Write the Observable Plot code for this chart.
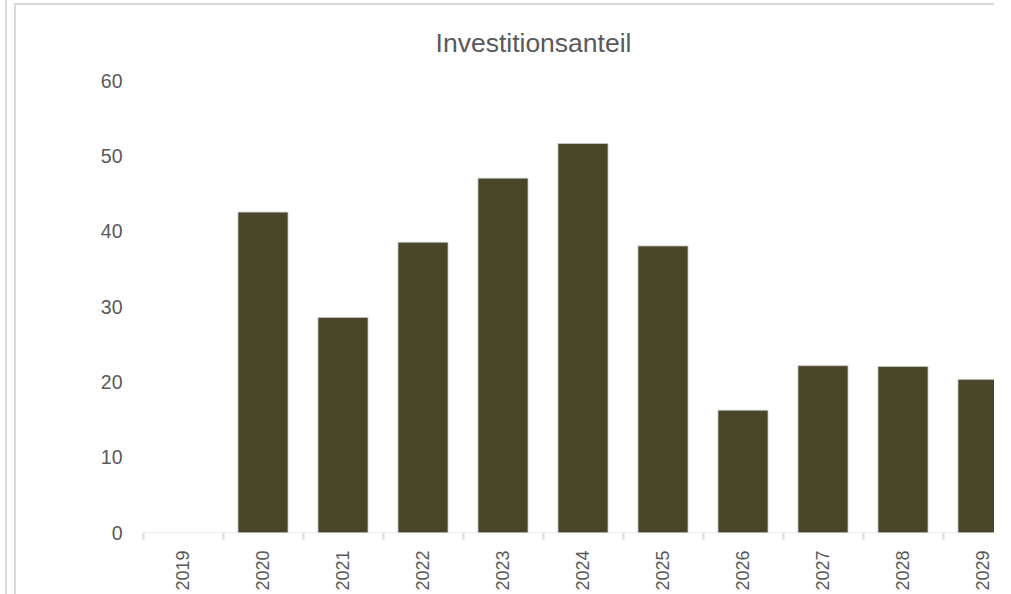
<!DOCTYPE html>
<html>
<head>
<meta charset="utf-8">
<script src="https://cdn.jsdelivr.net/npm/d3@7"></script>
<script src="https://cdn.jsdelivr.net/npm/@observablehq/plot@0.6"></script>
<style>
  html, body { margin: 0; padding: 0; background: #fff; }
  #wrap { position: relative; width: 1011px; height: 594px; overflow: hidden; }
  #outer { position: absolute; left: 5px; top: 0; width: 2px; height: 594px; background: #d9d9d9; }
  #frame { position: absolute; left: 14px; top: 3px; width: 980px; height: 600px;
           border-left: 2px solid #d9d9d9; border-top: 2px solid #d9d9d9; box-sizing: border-box; }
  #title { position: absolute; left: 533.5px; top: 25px; transform: translateX(-50%);
           font-family: "Liberation Sans", Arial, sans-serif; font-size: 26.5px;
           color: #595959; white-space: nowrap; line-height: 36px; }
  #chart { position: absolute; left: 0; top: 0; }
  #chart svg text { font-family: "Liberation Sans", Arial, sans-serif; }
</style>
</head>
<body>
<div id="wrap">
  <div id="outer"></div>
  <div id="frame"></div>
  <div id="chart"></div>
  <div id="title">Investitionsanteil</div>
</div>
<script>
const years = ["2019", "2020", "2021", "2022", "2023", "2024", "2025", "2026", "2027", "2028", "2029"];
const values = [null, 42.6, 28.6, 38.6, 47.1, 51.7, 38.1, 16.3, 22.2, 22.1, 20.4];
const yTicks = [0, 10, 20, 30, 40, 50, 60];

const data = years.map((year, i) => ({year, value: values[i]}));

const chart = Plot.plot({
  width: 1011,
  height: 594,
  marginLeft: 143,
  marginRight: 17,
  marginTop: 81,
  marginBottom: 61,
  style: {fontSize: "19px", color: "#595959", background: "transparent"},
  x: {domain: years, range: [143, 1023], padding: 0},
  y: {domain: [0, 60], ticks: yTicks},
  marks: [
    Plot.axisY({ticks: yTicks, tickSize: 0, tickPadding: 21, label: null, fill: "#595959", fontSize: 19.5}),
    Plot.barY(data.filter(d => d.value != null), {
      x: "year", y: "value", fill: "#4a4629", stroke: "#c8c8c0", strokeWidth: 0.8,
      insetLeft: 15, insetRight: 15, clip: "frame"
    }),
    Plot.ruleY([0], {stroke: "#d9d9d9", strokeWidth: 2, clip: "frame"}),
    Plot.axisX({ticks: years, tickSize: 7, dx: -40, tickFormat: () => "", stroke: "#d9d9d9", strokeWidth: 2, label: null}),
    Plot.axisX({ticks: years, tickSize: 0, tickPadding: 17, tickRotate: -90, label: null, fill: "#595959", fontSize: 18})
  ]
});
document.getElementById("chart").appendChild(chart);
</script>
</body>
</html>
